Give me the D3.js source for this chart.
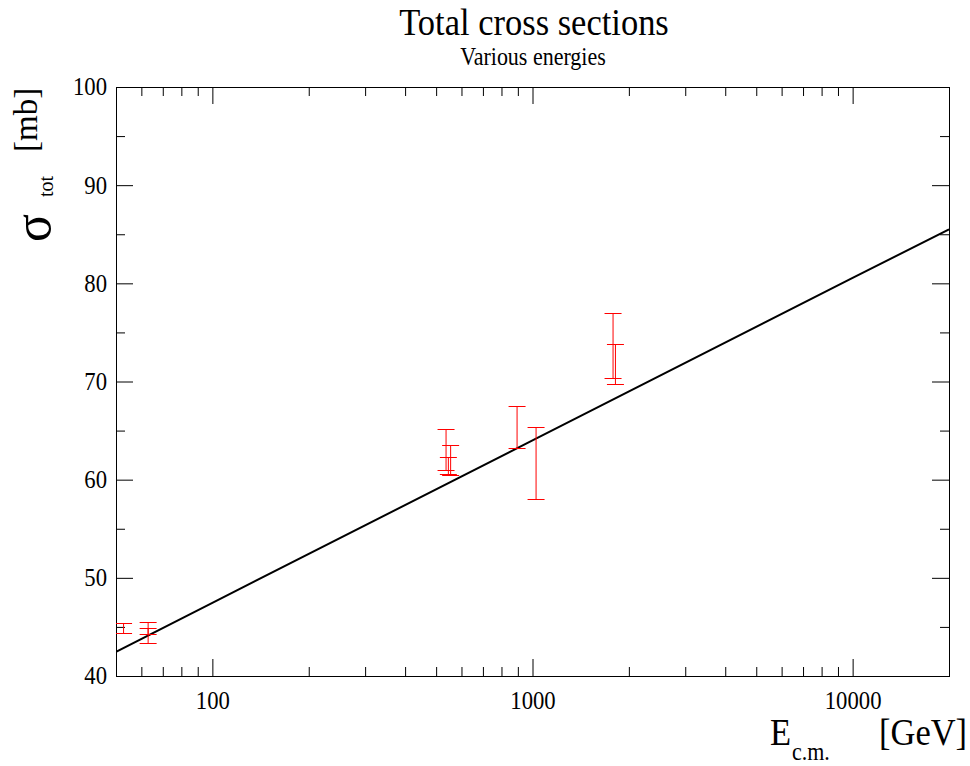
<!DOCTYPE html>
<html lang="en">
<head>
    <meta charset="UTF-8">
    <title>Total cross sections</title>
    <script src="https://d3js.org/d3.v7.min.js"></script>
    <style>
        body {
            margin: 0;
            padding: 0;
            background-color: #ffffff;
        }

        svg text {
            font-family: "Liberation Serif", "Times New Roman", serif;
            fill: #000;
        }
    </style>
</head>
<body>
    <div id="chart"></div>
    <script>
        // Data
        const energies = [52.8, 63, 63, 537, 546, 555, 895, 1026, 1785, 1816];
        const sigmaLow = [44.38, 44.28, 43.36, 60.98, 60.57, 60.47, 63.22, 58.02, 70.35, 69.74];
        const sigmaHigh = [45.40, 45.50, 44.89, 65.15, 62.30, 63.52, 67.49, 65.36, 76.97, 73.81];

        // fit line (straight in log E)
        const fitEnergies = [50, 100, 1000, 10000, 20000];
        const fitSigma = [42.45, 47.45, 64.0, 80.55, 85.5];

        const xMajorTicks = [100, 1000, 10000];
        const xMinorTicks = [60, 70, 80, 90, 200, 300, 400, 500, 600, 700, 800, 900,
            2000, 3000, 4000, 5000, 6000, 7000, 8000, 9000];
        const yMajorTicks = [40, 50, 60, 70, 80, 90, 100];
        const yMinorTicks = [45, 55, 65, 75, 85, 95];

        const width = 970;
        const height = 766;
        const margin = { top: 87, right: 21, bottom: 90, left: 116 };
        const stretch = 1.1; // text in the original is a bit taller than wide

        const svg = d3.select("#chart")
            .append("svg")
            .attr("width", width)
            .attr("height", height);

        const x = d3.scaleLog().domain([50, 20000]).range([margin.left, width - margin.right]);
        const y = d3.scaleLinear().domain([40, 100]).range([height - margin.bottom, margin.top]);

        const plotW = width - margin.left - margin.right;
        const plotH = height - margin.top - margin.bottom;
        const majorLen = 17;
        const minorLen = 9;

        svg.append("clipPath")
            .attr("id", "plot-clip")
            .append("rect")
            .attr("x", margin.left)
            .attr("y", margin.top)
            .attr("width", plotW)
            .attr("height", plotH);

        function noDomain(g) {
            g.select(".domain").remove();
            g.selectAll(".tick line").attr("stroke", "#000").attr("stroke-width", 1);
        }

        // bottom axis, labels + inward ticks
        svg.append("g")
            .attr("transform", `translate(0,${height - margin.bottom})`)
            .call(d3.axisBottom(x).tickValues(xMajorTicks).tickSize(-majorLen).tickPadding(14).tickFormat(d3.format("d")))
            .call(noDomain)
            .call(g => g.selectAll("text")
                .attr("font-size", 22.7)
                .attr("font-family", "Liberation Serif, serif")
                .attr("transform", `scale(1,${stretch})`));

        svg.append("g")
            .attr("transform", `translate(0,${height - margin.bottom})`)
            .call(d3.axisBottom(x).tickValues(xMinorTicks).tickSize(-minorLen).tickFormat(""))
            .call(noDomain);

        // top axis, ticks only
        svg.append("g")
            .attr("transform", `translate(0,${margin.top})`)
            .call(d3.axisTop(x).tickValues(xMajorTicks).tickSize(-majorLen).tickFormat(""))
            .call(noDomain);

        svg.append("g")
            .attr("transform", `translate(0,${margin.top})`)
            .call(d3.axisTop(x).tickValues(xMinorTicks).tickSize(-minorLen).tickFormat(""))
            .call(noDomain);

        // left axis
        svg.append("g")
            .attr("transform", `translate(${margin.left},0)`)
            .call(d3.axisLeft(y).tickValues(yMajorTicks).tickSize(-majorLen).tickPadding(9).tickFormat(d3.format("d")))
            .call(noDomain)
            .call(g => g.selectAll("text")
                .attr("font-size", 22.7)
                .attr("font-family", "Liberation Serif, serif")
                .attr("transform", `scale(1,${stretch})`));

        svg.append("g")
            .attr("transform", `translate(${margin.left},0)`)
            .call(d3.axisLeft(y).tickValues(yMinorTicks).tickSize(-minorLen).tickFormat(""))
            .call(noDomain);

        // right axis
        svg.append("g")
            .attr("transform", `translate(${width - margin.right},0)`)
            .call(d3.axisRight(y).tickValues(yMajorTicks).tickSize(-majorLen).tickFormat(""))
            .call(noDomain);

        svg.append("g")
            .attr("transform", `translate(${width - margin.right},0)`)
            .call(d3.axisRight(y).tickValues(yMinorTicks).tickSize(-minorLen).tickFormat(""))
            .call(noDomain);

        // frame
        svg.append("rect")
            .attr("x", margin.left + 0.5)
            .attr("y", margin.top + 0.5)
            .attr("width", plotW)
            .attr("height", plotH)
            .attr("fill", "none")
            .attr("stroke", "#000")
            .attr("stroke-width", 1);

        const plot = svg.append("g").attr("clip-path", "url(#plot-clip)");

        // fit line
        const fitData = fitEnergies.map((e, i) => ({ e: e, s: fitSigma[i] }));
        plot.append("path")
            .datum(fitData)
            .attr("fill", "none")
            .attr("stroke", "#000")
            .attr("stroke-width", 2)
            .attr("d", d3.line().x(d => x(d.e)).y(d => y(d.s)));

        // error bars
        const bars = energies.map((e, i) => ({ e: e, lo: sigmaLow[i], hi: sigmaHigh[i] }));
        const capW = 8.5;
        const eb = plot.selectAll("g.errbar")
            .data(bars)
            .enter()
            .append("g")
            .attr("class", "errbar")
            .attr("stroke", "#ff0000")
            .attr("stroke-width", 1);

        eb.append("line")
            .attr("x1", d => x(d.e)).attr("x2", d => x(d.e))
            .attr("y1", d => y(d.lo)).attr("y2", d => y(d.hi));
        eb.append("line")
            .attr("x1", d => x(d.e) - capW).attr("x2", d => x(d.e) + capW)
            .attr("y1", d => Math.round(y(d.hi)) + 0.5).attr("y2", d => Math.round(y(d.hi)) + 0.5);
        eb.append("line")
            .attr("x1", d => x(d.e) - capW).attr("x2", d => x(d.e) + capW)
            .attr("y1", d => Math.round(y(d.lo)) + 0.5).attr("y2", d => Math.round(y(d.lo)) + 0.5);

        // titles
        svg.append("text")
            .attr("text-anchor", "middle")
            .attr("font-size", 34.5)
            .attr("transform", `translate(534,35) scale(1,${stretch})`)
            .text("Total cross sections");

        svg.append("text")
            .attr("text-anchor", "middle")
            .attr("font-size", 22)
            .attr("transform", `translate(533,65) scale(1,${stretch})`)
            .text("Various energies");

        // x axis label
        const xl = svg.append("text")
            .attr("font-size", 34.5)
            .attr("transform", `translate(770,745) scale(1,${stretch})`);
        xl.append("tspan").attr("x", 0).attr("y", 0).text("E");
        xl.append("tspan").attr("x", 22).attr("y", 14).attr("font-size", 22).text("c.m.");
        xl.append("tspan").attr("x", 109).attr("y", 0).text("[GeV]");

        // y axis label
        const yl = svg.append("text")
            .attr("font-size", 34.5)
            .attr("transform", "translate(45,242) rotate(-90)");
        yl.append("tspan").attr("x", 0).attr("y", 5).attr("font-size", 52).text("σ");
        yl.append("tspan").attr("x", 45).attr("y", 8).attr("font-size", 20).text("tot");
        yl.append("tspan").attr("x", 90).attr("y", -8).attr("font-size", 33).text("[mb]");
    </script>
</body>
</html>
